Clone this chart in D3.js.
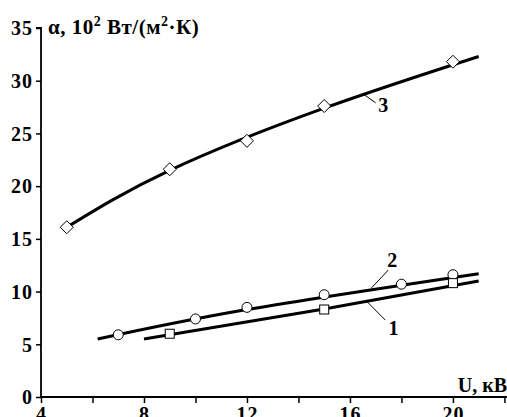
<!DOCTYPE html>
<html>
<head>
<meta charset="utf-8">
<script src="https://cdn.jsdelivr.net/npm/d3@7"></script>
<style>
  body { margin: 0; background: #fff; }
  svg { display: block; }
  text { font-family: "Liberation Serif", "DejaVu Serif", serif; font-weight: bold; fill: #000; }
</style>
</head>
<body>
<svg width="507" height="417"></svg>
<script>
// measured points (markers)
var u3 = [5, 9, 12, 15, 20];
var a3 = [16.1, 21.6, 24.3, 27.6, 31.8];
var u2 = [7, 10, 12, 15, 18, 20];
var a2 = [5.9, 7.4, 8.5, 9.7, 10.7, 11.6];
var u1 = [9, 15, 20];
var a1 = [6.0, 8.3, 10.8];

// fitted curves
var fitU3 = [5, 9, 15, 21];
var fitA3 = [16.1, 21.5, 27.4, 32.3];
var fitU2 = [6.2, 12, 21];
var fitA2 = [5.5, 8.3, 11.7];
var fitU1 = [8, 15, 21];
var fitA1 = [5.5, 8.35, 11.0];

var yTicks = [0, 5, 10, 15, 20, 25, 30, 35];
var xTicks = [4, 6, 8, 10, 12, 14, 16, 18, 20, 22];
var xLabels = [4, 8, 12, 16, 20];

// curve labels: leader from a point on the curve to the number
var curveNames = ["3", "2", "1"];
var leaderFrom = [[16.48, 28.8], [16.83, 10.33], [16.64, 9.1]];
var leaderTo = [[17.0, 27.9], [17.49, 12.04], [17.37, 7.3]];
var labelPos = [[17.1, 27.0], [17.45, 12.3], [17.5, 5.9]];

var svg = d3.select("svg");

var x = d3.scaleLinear().domain([4, 22.1]).range([41, 507]);
var y = d3.scaleLinear().domain([0, 35]).range([397, 28]);

// y axis
var yAxis = d3.axisLeft(y).tickValues(yTicks).tickSize(5).tickPadding(3);
var gy = svg.append("g").attr("transform", "translate(41,0)").call(yAxis);
gy.select(".domain").attr("d", "M-5," + y(35) + "H0V" + y(0)).attr("stroke-width", 1.8);
gy.selectAll(".tick line").attr("stroke-width", 1.5);
gy.selectAll(".tick text")
    .style("font-size", "20px")
    .style("letter-spacing", "1px")
    .attr("dy", "0.34em");

// x axis
var xAxis = d3.axisBottom(x)
    .tickValues(xTicks)
    .tickSize(6)
    .tickPadding(4)
    .tickFormat(function (d) { return xLabels.indexOf(d) >= 0 ? d : ""; });
var gx = svg.append("g").attr("transform", "translate(0,397)").call(xAxis);
gx.select(".domain").attr("d", "M41,0H507").attr("stroke-width", 1.8);
gx.selectAll(".tick line").attr("stroke-width", 1.5);
gx.selectAll(".tick text")
    .style("font-size", "20px")
    .style("letter-spacing", "1px")
    .attr("dy", "0.71em");

// axis titles
var yt = svg.append("text").attr("x", 48).attr("y", 34).style("font-size", "21px").style("letter-spacing", "0.5px");
yt.append("tspan").text("\u03b1, 10");
yt.append("tspan").attr("dy", -8).style("font-size", "14px").text("2");
yt.append("tspan").attr("dy", 8).text(" \u0412\u0442/(\u043c");
yt.append("tspan").attr("dy", -8).style("font-size", "14px").text("2");
yt.append("tspan").attr("dy", 8).text("\u00b7\u041a)");

svg.append("text")
    .attr("x", 507)
    .attr("y", 392)
    .attr("text-anchor", "end")
    .style("font-size", "20px")
    .text("U, \u043a\u0412");

// fitted lines
var line = d3.line()
    .x(function (d) { return x(d[0]); })
    .y(function (d) { return y(d[1]); })
    .curve(d3.curveNatural);

var fits = [d3.zip(fitU3, fitA3), d3.zip(fitU2, fitA2), d3.zip(fitU1, fitA1)];
svg.selectAll("path.fit")
    .data(fits)
    .enter()
    .append("path")
    .attr("class", "fit")
    .attr("d", line)
    .attr("fill", "none")
    .attr("stroke", "#000")
    .attr("stroke-width", 3);

// leaders and curve numbers
svg.selectAll("line.leader")
    .data(curveNames)
    .enter()
    .append("line")
    .attr("class", "leader")
    .attr("x1", function (d, i) { return x(leaderFrom[i][0]); })
    .attr("y1", function (d, i) { return y(leaderFrom[i][1]); })
    .attr("x2", function (d, i) { return x(leaderTo[i][0]); })
    .attr("y2", function (d, i) { return y(leaderTo[i][1]); })
    .attr("stroke", "#000")
    .attr("stroke-width", 1);

svg.selectAll("text.cname")
    .data(curveNames)
    .enter()
    .append("text")
    .attr("class", "cname")
    .attr("x", function (d, i) { return x(labelPos[i][0]); })
    .attr("y", function (d, i) { return y(labelPos[i][1]); })
    .style("font-size", "20px")
    .text(function (d) { return d; });

// markers
svg.selectAll("path.diamond")
    .data(d3.zip(u3, a3))
    .enter()
    .append("path")
    .attr("class", "diamond")
    .attr("d", function (d) {
        var cx = x(d[0]), cy = y(d[1]), r = 6.5;
        return "M" + cx + "," + (cy - r) + "L" + (cx + r) + "," + cy + "L" + cx + "," + (cy + r) + "L" + (cx - r) + "," + cy + "Z";
    })
    .attr("fill", "#fff")
    .attr("stroke", "#000")
    .attr("stroke-width", 1);

svg.selectAll("circle.pt")
    .data(d3.zip(u2, a2))
    .enter()
    .append("circle")
    .attr("class", "pt")
    .attr("cx", function (d) { return x(d[0]); })
    .attr("cy", function (d) { return y(d[1]); })
    .attr("r", 5)
    .attr("fill", "#fff")
    .attr("stroke", "#000")
    .attr("stroke-width", 1);

svg.selectAll("rect.pt")
    .data(d3.zip(u1, a1))
    .enter()
    .append("rect")
    .attr("class", "pt")
    .attr("x", function (d) { return x(d[0]) - 4.5; })
    .attr("y", function (d) { return y(d[1]) - 4.5; })
    .attr("width", 9)
    .attr("height", 9)
    .attr("fill", "#fff")
    .attr("stroke", "#000")
    .attr("stroke-width", 1);
</script>
</body>
</html>
